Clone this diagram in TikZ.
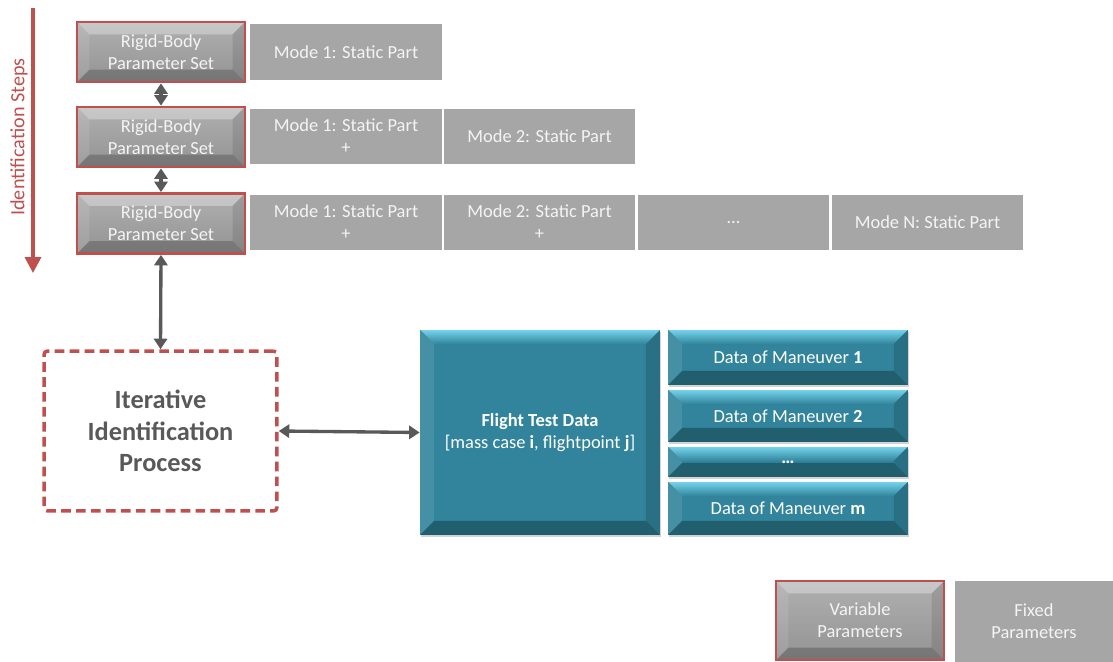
\documentclass[tikz,border=0pt]{standalone}
\usepackage{fontspec}
\setmainfont{Carlito}
\usetikzlibrary{arrows.meta,positioning,shadows}

\definecolor{boxgray}{HTML}{A6A6A6}
\definecolor{bevtop}{HTML}{B0B0B0}
\definecolor{bevbot}{HTML}{939393}
\definecolor{paramred}{HTML}{C0504D}
\definecolor{arrowgray}{HTML}{595959}
\definecolor{textwhite}{HTML}{F4F4F4}
\definecolor{datateal}{HTML}{31849B}
\definecolor{datalight}{HTML}{74D2EA}
\definecolor{datadark}{HTML}{215E6E}

% bevel faces: width, top, left, right, bottom
\newcommand\bevelfaces[5]{%
  \coordinate (bnw) at (path picture bounding box.north west);
  \coordinate (bne) at (path picture bounding box.north east);
  \coordinate (bsw) at (path picture bounding box.south west);
  \coordinate (bse) at (path picture bounding box.south east);
  \path[#2] (bnw) -- (bne) -- ([shift={(-#1,-#1)}]bne) -- ([shift={(#1,-#1)}]bnw) -- cycle;
  \path[#3] (bnw) -- ([shift={(#1,-#1)}]bnw) -- ([shift={(#1,#1)}]bsw) -- (bsw) -- cycle;
  \path[#4] (bne) -- ([shift={(-#1,-#1)}]bne) -- ([shift={(-#1,#1)}]bse) -- (bse) -- cycle;
  \path[#5] (bsw) -- ([shift={(#1,#1)}]bsw) -- ([shift={(-#1,#1)}]bse) -- (bse) -- cycle;
}

\tikzset{
  boxfont/.style={font=\fontsize{10.5}{12.5}\selectfont},
  rigidbox/.style={boxfont, align=center, text=textwhite,
    minimum width=3.36cm, minimum height=1.2cm,
    top color=bevtop, bottom color=bevbot, draw=paramred, line width=1.5pt,
    path picture={\bevelfaces{7pt}{fill=white,fill opacity=0.3}{fill=white,fill opacity=0.1}%
      {fill=black,fill opacity=0.1}{fill=black,fill opacity=0.2}}},
  modebox/.style={boxfont, align=center, text=textwhite, fill=boxgray,
    minimum width=3.84cm, minimum height=1.12cm},
  databox/.style={boxfont, align=center, text=white, fill=datateal,
    minimum width=4.8cm,
    drop shadow={shadow xshift=0.6pt, shadow yshift=-1.2pt, opacity=0.35},
    path picture={\bevelfaces{8pt}{top color=datalight,bottom color=datateal}%
      {fill=datateal!90!white}{fill=datateal!85!black}{fill=datadark}}},
  procbox/.style={align=center, text=arrowgray, font=\fontsize{15}{18}\selectfont\bfseries,
    draw=paramred, line width=2pt, dash pattern=on 5.5pt off 3pt, rounded corners=2pt,
    minimum width=4.66cm, minimum height=3.2cm},
  link/.style={draw=arrowgray, line width=1.9pt, {Triangle[length=6pt,width=7.5pt]}-{Triangle[length=6pt,width=7.5pt]}},
}

\begin{document}
\begin{tikzpicture}[x=0.02cm, y=-0.02cm]
  \useasboundingbox (0,0) rectangle (1113,662);

  % identification steps
  \coordinate (stepsfrom) at (33,8);
  \coordinate (stepsto) at (33,273);
  \draw[paramred, line width=2pt, -{Triangle[length=9pt,width=9pt]}] (stepsfrom) -- (stepsto);
  \node[rotate=90, text=paramred, font=\fontsize{11.5}{13}\selectfont] (steps) at (19,137) {Identification Steps};

  % step 1
  \node[rigidbox] (rb1) at (161,52) {Rigid-Body\\Parameter Set};
  \node[modebox] (m11) at (346,52) {Mode 1: Static Part};

  % step 2
  \node[rigidbox] (rb2) at (161,137) {Rigid-Body\\Parameter Set};
  \node[modebox] (m21) at (346,136.5) {Mode 1: Static Part\\+};
  \node[modebox] (m22) at (539.5,136.5) {Mode 2: Static Part};

  % step 3
  \node[rigidbox] (rb3) at (161,223.5) {Rigid-Body\\Parameter Set};
  \node[modebox] (m31) at (346,222.5) {Mode 1: Static Part\\+};
  \node[modebox] (m32) at (539.5,222.5) {Mode 2: Static Part\\+};
  \node[modebox] (m33) at (733.5,222.5) {…};
  \node[modebox] (m34) at (927.5,222.5) {Mode N: Static Part};

  % identification process
  \node[procbox] (iip) at (160.5,431) {Iterative\\Identification\\Process};

  % flight test data
  \node[databox, minimum height=4.1cm] (ftd) at (540,432.5)
    {\textbf{Flight Test Data}\\{}[mass case \textbf{i}, flightpoint \textbf{j}]};
  \node[databox, minimum height=1.1cm] (man1) at (788,357.5) {Data of Maneuver \textbf{1}};
  \node[databox, minimum height=1.04cm] (man2) at (788,416) {Data of Maneuver \textbf{2}};
  \node[databox, minimum height=0.6cm] (mandots) at (788,462) {\textbf{…}};
  \node[databox, minimum height=1.06cm] (manm) at (788,508.5) {Data of Maneuver \textbf{m}};

  % connectors
  \draw[link] (rb1.south) -- (rb2.north);
  \draw[link] (rb2.south) -- (rb3.north);
  \draw[link] (rb3.south) -- (iip.north);
  \draw[link] (iip.east) -- (ftd.west);

  % legend
  \node[rigidbox, minimum height=1.58cm] (varpar) at (860,620.5) {Variable\\Parameters};
  \node[modebox, minimum width=3.16cm, minimum height=1.62cm] (fixpar) at (1034,621.5) {Fixed\\Parameters};
\end{tikzpicture}
\end{document}
